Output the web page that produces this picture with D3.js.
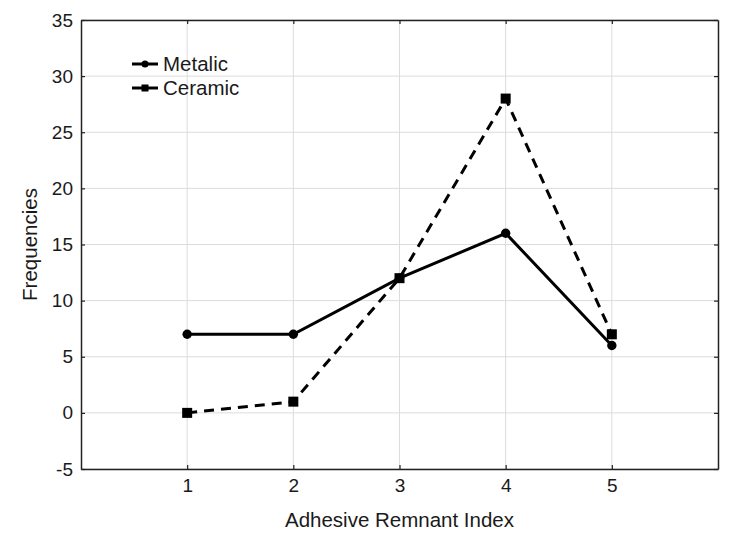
<!DOCTYPE html>
<html><head><meta charset="utf-8">
<script src="https://cdn.jsdelivr.net/npm/d3@7"></script>
<style>body{margin:0;background:#fff}svg{display:block}text{font-family:"Liberation Sans",Arial,sans-serif;fill:#1a1a1a}</style>
</head><body>
<script>
const categories = [1, 2, 3, 4, 5];
const metalic = [7, 7, 12, 16, 6];
const ceramic = [0, 1, 12, 28, 7];
const yTicks = [-5, 0, 5, 10, 15, 20, 25, 30, 35];
const seriesNames = ["Metalic", "Ceramic"];

const W = 730, H = 545;
const m = {left: 81, right: 12, top: 20, bottom: 76};
const svg = d3.select("body").append("svg").attr("width", W).attr("height", H);
const x = d3.scaleLinear().domain([0, 6]).range([m.left, W - m.right]);
const y = d3.scaleLinear().domain([-5, 35]).range([H - m.bottom, m.top]);
const fmt = d => String(d);

const g = svg.append("g");
// grid
g.selectAll(".gx").data(categories).enter().append("line")
  .attr("x1", d => x(d)).attr("x2", d => x(d)).attr("y1", y(35)).attr("y2", y(-5))
  .attr("stroke", "#dcdcdc").attr("stroke-width", 1);
g.selectAll(".gy").data(yTicks).enter().append("line")
  .attr("x1", x(0)).attr("x2", x(6)).attr("y1", d => y(d)).attr("y2", d => y(d))
  .attr("stroke", "#dcdcdc").attr("stroke-width", 1);

// axes with inward ticks
const ax = (gen, tr) => svg.append("g").attr("transform", tr).call(gen);
const axLeft = ax(d3.axisLeft(y).tickValues(yTicks).tickFormat(fmt).tickSizeInner(-4).tickSizeOuter(0).tickPadding(8), `translate(${x(0)},0)`);
const axRight = ax(d3.axisRight(y).tickValues(yTicks).tickSizeInner(-4).tickSizeOuter(0).tickFormat(""), `translate(${x(6)},0)`);
const axBottom = ax(d3.axisBottom(x).tickValues(categories).tickFormat(fmt).tickSizeInner(-4).tickSizeOuter(0).tickPadding(10), `translate(0,${y(-5)})`);
const axTop = ax(d3.axisTop(x).tickValues(categories).tickSizeInner(-4).tickSizeOuter(0).tickFormat(""), `translate(0,${y(35)})`);
[axLeft, axRight, axBottom, axTop].forEach(a => {
  a.attr("font-size", 19);
  a.select(".domain").attr("stroke", "#222").attr("stroke-width", 1.5);
  a.selectAll(".tick line").attr("stroke", "#222").attr("stroke-width", 1.2);
  a.selectAll("text").attr("font-size", 19).attr("fill", "#222");
});

const line = d3.line().x((d, i) => x(categories[i])).y(d => y(d));
svg.append("path").datum(metalic).attr("d", line).attr("fill", "none")
  .attr("stroke", "#000").attr("stroke-width", 3);
svg.append("path").datum(ceramic).attr("d", line).attr("fill", "none")
  .attr("stroke", "#000").attr("stroke-width", 3).attr("stroke-dasharray", "10,7");
svg.selectAll(".mc").data(metalic).enter().append("circle")
  .attr("cx", (d, i) => x(categories[i])).attr("cy", d => y(d)).attr("r", 4.7).attr("fill", "#000");
svg.selectAll(".ms").data(ceramic).enter().append("rect")
  .attr("x", (d, i) => x(categories[i]) - 5).attr("y", d => y(d) - 5)
  .attr("width", 10).attr("height", 10).attr("fill", "#000");

// legend
const lg = svg.append("g").attr("transform", "translate(132,64)");
seriesNames.forEach((n, i) => {
  const r = lg.append("g").attr("transform", `translate(0,${i * 24})`);
  r.append("line").attr("x1", 0).attr("x2", 26).attr("stroke", "#000").attr("stroke-width", 3);
  if (i === 0) r.append("circle").attr("cx", 13).attr("r", 3.5).attr("fill", "#000");
  else r.append("rect").attr("x", 9.5).attr("y", -3.5).attr("width", 7).attr("height", 7).attr("fill", "#000");
  r.append("text").attr("x", 31).attr("y", 7).attr("font-size", 20.5).text(n);
});

// axis titles
svg.append("text").attr("x", x(3)).attr("y", 527).attr("text-anchor", "middle").attr("font-size", 20.5)
  .text("Adhesive Remnant Index");
svg.append("text").attr("transform", `translate(37,${(y(35) + y(-5)) / 2}) rotate(-90)`)
  .attr("text-anchor", "middle").attr("font-size", 20.5).text("Frequencies");
</script>
</body></html>
